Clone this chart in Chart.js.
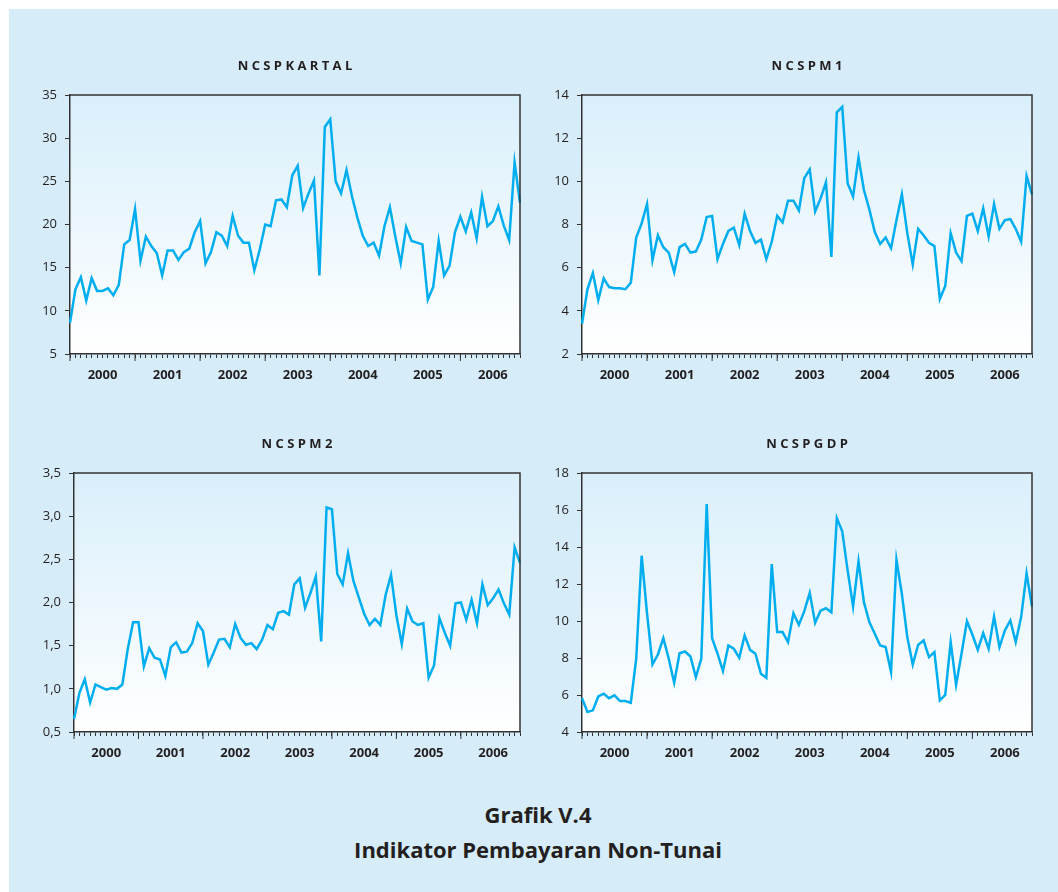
<!DOCTYPE html>
<html>
<head>
<meta charset="utf-8">
<script src="https://cdn.jsdelivr.net/npm/chart.js@4"></script>
<style>
  body { margin: 0; background: #ffffff; }
  #bg { position: absolute; left: 9px; top: 9px; width: 1049px; height: 883px; background: #d6ecf9; }
  canvas { position: absolute; }
  #cap { position: absolute; left: 0; top: 797px; width: 1076px; text-align: center;
         font-family: 'Open Sans', sans-serif; font-weight: bold; font-size: 22px;
         line-height: 35px; color: #231f20; }
</style>
</head>
<body>
<div id="bg"></div>
<canvas id="c1" width="530" height="344" style="left:0px;top:50px"></canvas>
<canvas id="c2" width="530" height="344" style="left:512px;top:50px"></canvas>
<canvas id="c3" width="530" height="344" style="left:0px;top:428px"></canvas>
<canvas id="c4" width="530" height="344" style="left:512px;top:428px"></canvas>
<div id="cap">Grafik V.4<br>Indikator Pembayaran Non-Tunai</div>
<script>
var years = ['2000', '2001', '2002', '2003', '2004', '2005', '2006'];

// monthly data, Jan 2000 - Dec 2006
var kartal = [
  8.6, 12.5, 13.9, 11.2, 13.8, 12.3, 12.3, 12.6, 11.8, 13.0, 17.7, 18.2,
  21.8, 15.8, 18.6, 17.5, 16.7, 14.1, 17.0, 17.0, 15.9, 16.8, 17.2, 19.1,
  20.4, 15.5, 16.8, 19.1, 18.7, 17.5, 21.0, 18.7, 17.9, 17.9, 14.7, 17.1,
  20.0, 19.8, 22.8, 22.9, 22.0, 25.7, 26.8, 21.9, 23.6, 25.1, 14.1, 31.3,
  32.2, 25.0, 23.6, 26.3, 23.3, 20.8, 18.7, 17.5, 17.9, 16.4, 19.8, 22.0,
  18.6, 15.5, 19.7, 18.1, 17.9, 17.7, 11.3, 12.8, 18.1, 14.1, 15.2, 19.1,
  20.9, 19.2, 21.4, 18.4, 23.2, 19.8, 20.4, 22.1, 19.9, 18.2, 27.2, 22.5
];
var m1 = [
  3.4, 5.0, 5.75, 4.5, 5.5, 5.1, 5.05, 5.05, 5.0, 5.3, 7.4, 8.05,
  8.95, 6.35, 7.5, 6.95, 6.7, 5.8, 6.95, 7.1, 6.7, 6.75, 7.3, 8.35,
  8.4, 6.4, 7.1, 7.7, 7.85, 7.05, 8.5, 7.7, 7.15, 7.3, 6.4, 7.2,
  8.4, 8.1, 9.1, 9.1, 8.65, 10.15, 10.55, 8.6, 9.2, 9.95, 6.5, 13.2,
  13.45, 9.9, 9.3, 11.1, 9.6, 8.7, 7.65, 7.1, 7.4, 6.9, 8.2, 9.4,
  7.6, 6.15, 7.8, 7.5, 7.15, 7.0, 4.55, 5.15, 7.6, 6.7, 6.3, 8.4,
  8.5, 7.7, 8.75, 7.45, 8.95, 7.8, 8.2, 8.25, 7.8, 7.2, 10.25, 9.4
];
var m2 = [
  0.65, 0.95, 1.11, 0.84, 1.05, 1.02, 0.99, 1.01, 1.0, 1.05, 1.46, 1.77,
  1.77, 1.26, 1.47, 1.36, 1.34, 1.15, 1.48, 1.54, 1.42, 1.43, 1.53, 1.76,
  1.67, 1.28, 1.42, 1.57, 1.58, 1.48, 1.75, 1.59, 1.51, 1.53, 1.46, 1.57,
  1.74, 1.69, 1.88, 1.90, 1.86, 2.21, 2.28, 1.94, 2.11, 2.30, 1.55, 3.10,
  3.08, 2.33, 2.21, 2.57, 2.25, 2.06, 1.87, 1.74, 1.81, 1.74, 2.09, 2.32,
  1.85, 1.52, 1.93, 1.78, 1.74, 1.76, 1.13, 1.27, 1.82, 1.65, 1.50, 1.99,
  2.00, 1.80, 2.03, 1.76, 2.21, 1.97, 2.05, 2.15, 1.99, 1.86, 2.64, 2.46
];
var gdp = [
  5.83, 5.08, 5.17, 5.92, 6.07, 5.83, 5.98, 5.67, 5.67, 5.58, 7.96, 13.53,
  10.4, 7.65, 8.19, 9.07, 7.96, 6.66, 8.26, 8.35, 8.08, 6.97, 7.96, 16.32,
  9.07, 8.23, 7.29, 8.68, 8.50, 8.01, 9.22, 8.44, 8.23, 7.15, 6.93, 13.08,
  9.40, 9.40, 8.86, 10.42, 9.79, 10.53, 11.52, 9.90, 10.56, 10.69, 10.47, 15.56,
  14.85, 12.72, 10.78, 13.23, 11.01, 9.94, 9.31, 8.68, 8.59, 7.24, 13.30, 11.46,
  9.13, 7.65, 8.71, 8.95, 8.05, 8.32, 5.71, 6.01, 8.86, 6.55, 8.23, 9.99,
  9.27, 8.44, 9.34, 8.50, 10.24, 8.59, 9.49, 10.03, 8.86, 10.21, 12.58, 10.78
];

var labels = [];
for (var y = 0; y < years.length; y++) {
  for (var m = 1; m <= 12; m++) labels.push(years[y] + '-' + m);
}

var axisColor = '#333333';
var textColor = '#231f20';

// plot background gradient, top/right frame and longer year ticks
var framePlugin = {
  id: 'frame',
  beforeDraw: function(chart) {
    var a = chart.chartArea, ctx = chart.ctx;
    var g = ctx.createLinearGradient(0, a.top, 0, a.bottom);
    g.addColorStop(0, '#d9effb');
    g.addColorStop(1, '#ffffff');
    ctx.save();
    ctx.fillStyle = g;
    ctx.fillRect(a.left, a.top, a.right - a.left, a.bottom - a.top);
    ctx.restore();
  },
  afterDraw: function(chart) {
    var a = chart.chartArea, ctx = chart.ctx, xs = chart.scales.x;
    ctx.save();
    ctx.strokeStyle = axisColor;
    ctx.lineWidth = 1.5;
    ctx.beginPath();
    ctx.moveTo(a.left, a.top);
    ctx.lineTo(a.right, a.top);
    ctx.lineTo(a.right, a.bottom);
    ctx.stroke();
    ctx.lineWidth = 1;
    for (var i = 0; i < labels.length; i += 12) {
      var px = xs.getPixelForTick(i);
      ctx.beginPath();
      ctx.moveTo(px, a.bottom);
      ctx.lineTo(px, a.bottom + 7);
      ctx.stroke();
    }
    ctx.restore();
  }
};

function makePanel(id, title, values, yMin, yMax, step, yWidth, fmt) {
  var ctx = document.getElementById(id).getContext('2d');
  return new Chart(ctx, {
    type: 'line',
    data: {
      labels: labels,
      datasets: [{
        data: values,
        borderColor: '#00aeef',
        borderWidth: 2.5,
        pointRadius: 0,
        tension: 0,
        fill: false
      }]
    },
    options: {
      responsive: false,
      animation: false,
      layout: { padding: { right: 10 } },
      plugins: {
        legend: { display: false },
        tooltip: { enabled: false },
        title: {
          display: true,
          text: title,
          fullSize: false,
          color: textColor,
          font: { family: 'Open Sans', size: 13, weight: 'bold', lineHeight: 1 },
          padding: { top: 10, bottom: 22 }
        }
      },
      scales: {
        x: {
          offset: false,
          grid: { display: true, drawOnChartArea: false, drawTicks: true, tickLength: 4,
                  color: axisColor, tickColor: axisColor, offset: false },
          border: { display: true, color: axisColor, width: 1.5 },
          ticks: {
            autoSkip: false,
            maxRotation: 0,
            padding: 9,
            color: textColor,
            font: { family: 'Open Sans', size: 13, weight: 'bold' },
            callback: function(v, i) { return i % 12 === 6 ? years[Math.floor(i / 12)] : ''; }
          },
          afterFit: function(s) { s.height = 40; }
        },
        y: {
          min: yMin,
          max: yMax,
          grid: { drawOnChartArea: false, drawTicks: true, tickLength: 5,
                  color: axisColor, tickColor: axisColor },
          border: { display: true, color: axisColor, width: 1.5 },
          ticks: {
            stepSize: step,
            padding: 8,
            color: textColor,
            font: { family: 'Open Sans', size: 13 },
            callback: fmt
          },
          afterFit: function(s) { s.width = yWidth; }
        }
      }
    },
    plugins: [framePlugin]
  });
}

var plain = function(v) { return v; };
var comma = function(v) { return v.toFixed(1).replace('.', ','); };

makePanel('c1', 'N C S P K A R T A L', kartal, 5, 35, 5, 70, plain);
makePanel('c2', 'N C S P M 1', m1, 2, 14, 2, 70, plain);
makePanel('c3', 'N C S P M 2', m2, 0.5, 3.5, 0.5, 74, comma);
makePanel('c4', 'N C S P G D P', gdp, 4, 18, 2, 70, plain);
</script>
</body>
</html>
